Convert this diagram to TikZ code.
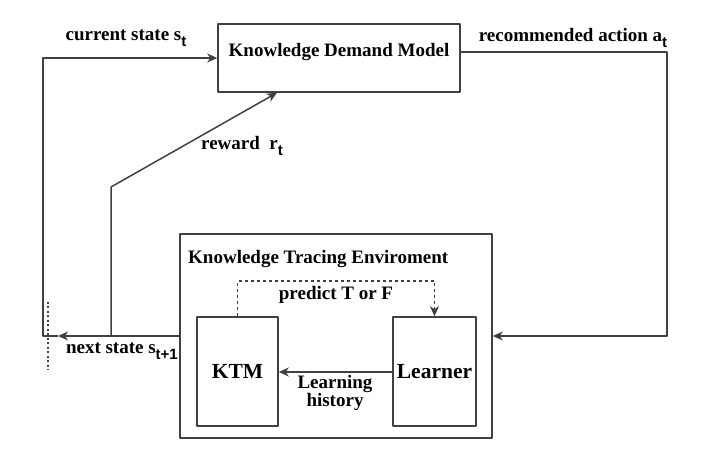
\documentclass[tikz,border=0pt]{standalone}
\usepackage{fontspec}
\setmainfont{Liberation Serif}
\setsansfont{Liberation Sans}
\usetikzlibrary{arrows.meta}
\newcommand{\lowsub}[1]{\raisebox{-0.3em}{\sffamily\bfseries\fontsize{15}{15}\selectfont #1}}
\begin{document}
\begin{tikzpicture}[x=1pt,y=-1pt,>={Stealth[length=10pt,width=9pt,inset=3pt]},
  line join=round, font=\rmfamily\bfseries\fontsize{19}{21}\selectfont,
  box/.style={draw=black!75, line width=1.5pt, inner sep=0pt},
  wire/.style={draw=black!75, line width=1.5pt},
  big/.style={font=\rmfamily\bfseries\fontsize{21.5}{24}\selectfont}]
\useasboundingbox (0,0) rectangle (718,454);
% boxes
\node[box, minimum width=242pt, minimum height=68pt] (kdm) at (339,58)
  {\raisebox{6pt}[\height][\depth]{Knowledge Demand Model}};
\node[box, minimum width=312pt, minimum height=204pt] (env) at (336,336) {};
\node[anchor=north west, inner sep=0pt] (envt) at (188,250) {Knowledge Tracing Enviroment};
\node[box, big, minimum width=81pt, minimum height=109pt] (ktm) at (237.5,371.5) {KTM};
\node[box, big, minimum width=83pt, minimum height=109pt] (lrn) at (434.5,371.5) {Learner};
% loop
\coordinate (nxt) at (58,336);
\coordinate (lc) at (43,336);
\coordinate (rc) at (667,336);
\coordinate (rb) at (111,336);
\coordinate (rk) at (111,187);
\coordinate (d1) at (48,302);
\coordinate (d2) at (48,370);
\draw[wire,->] (env.west) -- (nxt);
\draw[wire,->] (nxt) -- (lc) |- (kdm.west);
\draw[wire,->] (rb) -- (rk) -- ([xshift=-62pt]kdm.south);
\draw[wire,->] ([yshift=6pt]kdm.east) -| (rc) -- (env.east);
\draw[wire,dash pattern=on 2pt off 2.5pt] (d1) -- (d2);
\draw[wire,->] (lrn.west|-0,372) -- (ktm.east|-0,372);
\draw[wire,dash pattern=on 3pt off 3pt,->] (ktm.north) -- ++(0,-35) -| (lrn.north);
% labels
\node (cur) at (126,38) {current state s\lowsub{t}};
\node (rec) at (573,38) {recommended action a\lowsub{t}};
\node (rew) at (242,146) {reward\ \ r\lowsub{t}};
\node[anchor=north east, inner sep=0pt] (nst) at (178,343) {next state s\lowsub{t+1}};
\node (prd) at (336,295) {predict T or F};
\node[anchor=north, align=center, inner sep=0pt, font=\rmfamily\bfseries\fontsize{19}{18}\selectfont] (hist) at (335,375) {Learning\\history};
\end{tikzpicture}
\end{document}
